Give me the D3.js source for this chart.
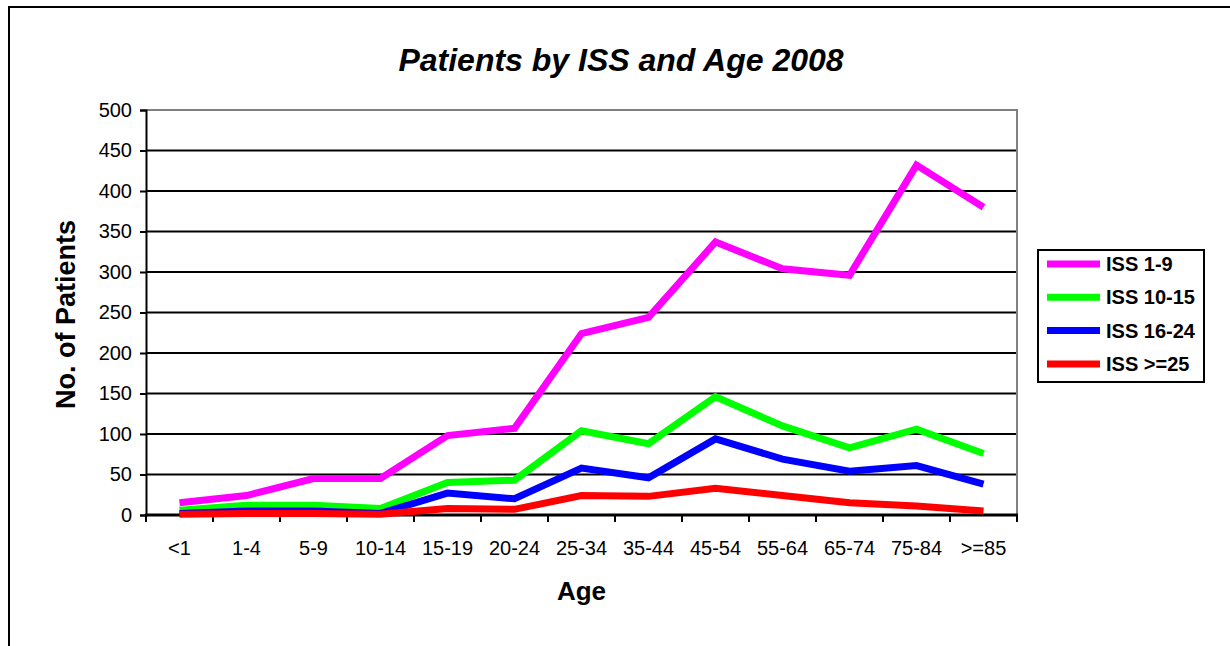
<!DOCTYPE html>
<html>
<head>
<meta charset="utf-8">
<script src="https://cdn.jsdelivr.net/npm/d3@7"></script>
<style>
  body { margin: 0; background: #fff; }
  text { font-family: Arial, "Liberation Sans", sans-serif; fill: #000; }
</style>
</head>
<body>
<div id="chart"></div>
<script>
// 1. Data
const ageGroups = ["<1", "1-4", "5-9", "10-14", "15-19", "20-24", "25-34", "35-44", "45-54", "55-64", "65-74", "75-84", ">=85"]
const iss1to9 = [15, 24, 45, 45, 98, 107, 224, 244, 337, 304, 296, 432, 380]
const iss10to15 = [6, 12, 12, 8, 40, 43, 104, 88, 146, 110, 83, 106, 76]
const iss16to24 = [2, 5, 5, 2, 27, 20, 58, 46, 94, 69, 54, 61, 38]
const iss25plus = [1, 2, 2, 1, 8, 7, 24, 23, 33, 24, 15, 11, 5]
const seriesNames = ["ISS 1-9", "ISS 10-15", "ISS 16-24", "ISS >=25"]
const seriesColors = ["#ff00ff", "#00ff00", "#0000ff", "#ff0000"]
const yTicks = [0, 50, 100, 150, 200, 250, 300, 350, 400, 450, 500]

const series = [iss1to9, iss10to15, iss16to24, iss25plus].map((values, i) => ({
  name: seriesNames[i],
  color: seriesColors[i],
  values: values
}))

// 2. Dimensions
const width = 1230
const height = 646
const plot = { left: 146, right: 1017, top: 110, bottom: 515 }

const svg = d3.select("#chart")
  .append("svg")
    .attr("width", width)
    .attr("height", height)

// outer frame (only top and left visible)
svg.append("path")
  .attr("d", `M9,${height} L9,7 L${width},7`)
  .attr("fill", "none")
  .attr("stroke", "#000")
  .attr("stroke-width", 2)

// 3. Scales
const x = d3.scaleBand()
  .domain(ageGroups)
  .range([plot.left, plot.right])

const y = d3.scaleLinear()
  .domain([0, 500])
  .range([plot.bottom, plot.top])

// gridlines
svg.append("g")
  .selectAll("line")
  .data(yTicks.filter(d => d > 0 && d < 500))
  .enter().append("line")
    .attr("x1", plot.left)
    .attr("x2", plot.right)
    .attr("y1", d => y(d))
    .attr("y2", d => y(d))
    .attr("stroke", "#000")
    .attr("stroke-width", 2)

// plot border top / right (gray)
svg.append("path")
  .attr("d", `M${plot.left},${y(500)} L${plot.right},${y(500)} L${plot.right},${plot.bottom}`)
  .attr("fill", "none")
  .attr("stroke", "#808080")
  .attr("stroke-width", 2)

// y axis
const yAxis = svg.append("g")
  .attr("transform", `translate(${plot.left},0)`)
  .call(d3.axisLeft(y).tickValues(yTicks).tickSize(6).tickPadding(8))
yAxis.select(".domain").attr("stroke", "#000").attr("stroke-width", 2)
yAxis.selectAll(".tick line").attr("stroke", "#000").attr("stroke-width", 2)
yAxis.selectAll(".tick text")
  .style("font-family", "Arial, 'Liberation Sans', sans-serif")
  .style("font-size", "20px")
  .attr("fill", "#000")

// x axis: ticks at category boundaries
const xAxisG = svg.append("g")
svg.append("line")
  .attr("x1", plot.left - 1)
  .attr("x2", plot.right + 1)
  .attr("y1", plot.bottom)
  .attr("y2", plot.bottom)
  .attr("stroke", "#000")
  .attr("stroke-width", 3)
xAxisG.selectAll("line")
  .data(ageGroups.map(d => x(d)).concat([plot.right]))
  .enter().append("line")
    .attr("x1", d => d)
    .attr("x2", d => d)
    .attr("y1", plot.bottom)
    .attr("y2", plot.bottom + 7)
    .attr("stroke", "#000")
    .attr("stroke-width", 2)
xAxisG.selectAll("text")
  .data(ageGroups)
  .enter().append("text")
    .attr("x", d => x(d) + x.bandwidth() / 2)
    .attr("y", 555)
    .attr("text-anchor", "middle")
    .style("font-size", "20px")
    .text(d => d)

// 4. Lines
const line = d3.line()
  .x((d, i) => x(ageGroups[i]) + x.bandwidth() / 2)
  .y(d => y(d))

svg.append("g")
  .selectAll("path")
  .data(series)
  .enter().append("path")
    .attr("d", d => line(d.values))
    .attr("fill", "none")
    .attr("stroke", d => d.color)
    .attr("stroke-width", 7)
    .attr("stroke-linejoin", "miter")

// 5. Titles
svg.append("text")
  .attr("x", 621)
  .attr("y", 71)
  .attr("text-anchor", "middle")
  .style("font-size", "32px")
  .style("font-weight", "bold")
  .style("font-style", "italic")
  .text("Patients by ISS and Age 2008")

svg.append("text")
  .attr("x", (plot.left + plot.right) / 2)
  .attr("y", 600)
  .attr("text-anchor", "middle")
  .style("font-size", "26px")
  .style("font-weight", "bold")
  .text("Age")

svg.append("text")
  .attr("transform", `translate(75,${(plot.top + plot.bottom) / 2 + 2}) rotate(-90)`)
  .attr("text-anchor", "middle")
  .style("font-size", "27px")
  .style("font-weight", "bold")
  .text("No. of Patients")

// 6. Legend
const legend = svg.append("g")
legend.append("rect")
  .attr("x", 1038)
  .attr("y", 250)
  .attr("width", 166)
  .attr("height", 132)
  .attr("fill", "#fff")
  .attr("stroke", "#000")
  .attr("stroke-width", 2)

const items = legend.selectAll(".item")
  .data(series)
  .enter().append("g")
    .attr("class", "item")
    .attr("transform", (d, i) => `translate(0,${264 + i * 33.3})`)
items.append("line")
  .attr("x1", 1047)
  .attr("x2", 1100)
  .attr("stroke", d => d.color)
  .attr("stroke-width", 7)
items.append("text")
  .attr("x", 1106)
  .attr("y", 7)
  .style("font-size", "20px")
  .style("font-weight", "bold")
  .text(d => d.name)
</script>
</body>
</html>
